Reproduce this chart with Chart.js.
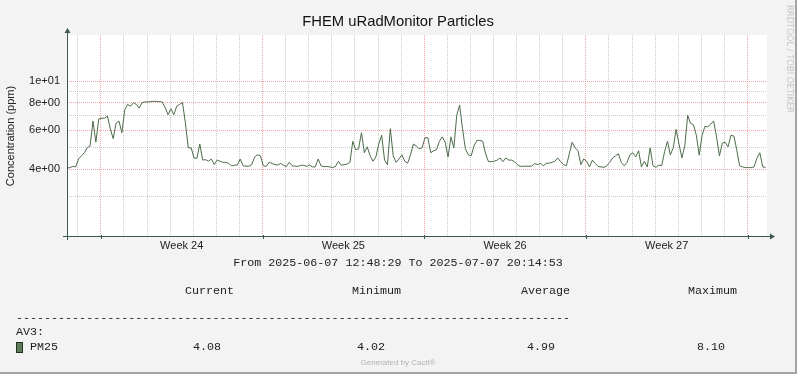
<!DOCTYPE html>
<html>
<head>
<meta charset="utf-8">
<script src="https://cdn.jsdelivr.net/npm/chart.js@4.4.1/dist/chart.umd.min.js"></script>
<style>
html, body { margin: 0; padding: 0; background: #f3f3f3; }
canvas { display: block; }
</style>
</head>
<body>
<canvas id="chart" width="797" height="374"></canvas>
<script>
'use strict';

// time span of the graph (UTC so the page does not depend on the local zone)
var START = Date.UTC(2025, 5, 7, 12, 48, 29);
var END = Date.UTC(2025, 6, 7, 20, 14, 53);
var FIRST_MONDAY = Date.UTC(2025, 5, 9);
var SAMPLE_HOURS = 3;

// PM25 readings, one every 3 hours from START
var pm25 = [
	4.05, 4.07, 4.12, 4.10, 4.45, 4.60, 4.75, 5.00, 5.10, 6.60,
	5.30, 6.75, 6.80, 6.80, 6.95, 6.10, 5.50, 6.45, 6.60, 5.85,
	7.40, 7.85, 7.70, 8.00, 7.85, 7.55, 8.00, 8.05, 8.05, 8.08,
	8.10, 8.10, 8.08, 8.05, 7.60, 7.05, 7.50, 7.05, 7.70, 7.85,
	8.00, 6.50, 5.00, 5.00, 4.50, 4.48, 5.20, 4.40, 4.42, 4.35,
	4.45, 4.20, 4.40, 4.35, 4.30, 4.30, 4.25, 4.15, 4.17, 4.18,
	4.45, 4.15, 4.13, 4.13, 4.20, 4.55, 4.65, 4.60, 4.15, 4.12,
	4.30, 4.25, 4.20, 4.18, 4.25, 4.17, 4.12, 4.30, 4.15, 4.13,
	4.12, 4.17, 4.17, 4.12, 4.18, 4.10, 4.10, 4.45, 4.15, 4.11,
	4.12, 4.10, 4.07, 4.12, 4.35, 4.17, 4.20, 4.22, 4.30, 5.35,
	4.90, 4.95, 5.85, 4.75, 5.05, 4.60, 4.35, 4.55, 5.20, 5.70,
	4.40, 4.20, 6.10, 4.60, 4.30, 4.45, 4.65, 4.35, 4.26, 4.65,
	5.20, 5.10, 4.95, 5.00, 5.55, 5.55, 4.75, 4.85, 4.90, 5.35,
	5.60, 5.30, 4.55, 5.60, 5.00, 7.00, 7.80, 6.10, 4.95, 4.65,
	4.60, 5.10, 5.40, 5.40, 5.35, 4.70, 4.33, 4.33, 4.35, 4.40,
	4.50, 4.33, 4.50, 4.40, 4.40, 4.33, 4.20, 4.12, 4.13, 4.13,
	4.13, 4.13, 4.25, 4.20, 4.25, 4.15, 4.25, 4.26, 4.30, 4.35,
	4.50, 4.33, 4.20, 4.15, 4.70, 5.30, 5.00, 4.85, 4.20, 4.45,
	4.35, 4.10, 4.40, 4.25, 4.12, 4.10, 4.08, 4.15, 4.30, 4.50,
	4.60, 4.70, 4.30, 4.15, 4.30, 4.65, 4.75, 4.55, 4.85, 4.10,
	4.35, 4.10, 5.00, 4.15, 4.08, 4.18, 4.15, 4.80, 5.35, 4.65,
	5.00, 6.05, 5.20, 4.50, 5.10, 7.00, 6.45, 6.35, 5.70, 4.63,
	5.70, 6.25, 6.22, 6.40, 6.60, 5.60, 4.60, 5.25, 5.30, 5.05,
	5.70, 5.65, 4.90, 4.15, 4.10, 4.07, 4.07, 4.07, 4.10, 4.50,
	4.75, 4.10, 4.08
];

var WEEK_LABELS = ['Week 24', 'Week 25', 'Week 26', 'Week 27'];
var Y_GRID = [3, 4, 5, 6, 7, 8, 9, 10];
var Y_LABELED = [4, 6, 8, 10];
var Y_MIN = 2;
var Y_MAX = 16.14;

var LEGEND_HEAD = ['Current', 'Minimum', 'Average', 'Maximum'];
var LEGEND_VALS = ['4.08', '4.02', '4.99', '8.10'];

var HOUR = 3600000;
var TOTAL_HOURS = (END - START) / HOUR;

var AXIS_COLOR = '#3c5950';
var LINE_COLOR = '#4d6c4a';
var MAJOR_GRID = 'rgba(235, 90, 90, 0.55)';
var MINOR_GRID = 'rgba(160, 160, 160, 0.55)';

function pad(n) { return (n < 10 ? '0' : '') + n; }
function stamp(ms) {
	var d = new Date(ms);
	return d.getUTCFullYear() + '-' + pad(d.getUTCMonth() + 1) + '-' + pad(d.getUTCDate()) + ' ' +
		pad(d.getUTCHours()) + ':' + pad(d.getUTCMinutes()) + ':' + pad(d.getUTCSeconds());
}
function expLabel(v) {
	var e = Math.floor(Math.log10(v) + 1e-9);
	var m = Math.round(v / Math.pow(10, e));
	return m + 'e' + (e < 0 ? '-' : '+') + pad(Math.abs(e));
}

// day boundaries, Mondays and week centres, in hours from START
var dayTicks = [];
for (var t = Date.UTC(2025, 5, 8); t <= END; t += 24 * HOUR) {
	dayTicks.push({ value: (t - START) / HOUR, monday: ((t - FIRST_MONDAY) / HOUR) % 168 === 0 });
}
var weekTicks = WEEK_LABELS.map(function (label, k) {
	return { value: (FIRST_MONDAY - START) / HOUR + 168 * k + 84, label: label };
});

var points = pm25.map(function (v, i) { return { x: i * SAMPLE_HOURS, y: v }; });

var rrdFrame = {
	id: 'rrdFrame',
	beforeDraw: function (chart) {
		var ctx = chart.ctx, a = chart.chartArea;
		ctx.save();
		ctx.fillStyle = '#f3f3f3';
		ctx.fillRect(0, 0, chart.width, chart.height);
		ctx.fillStyle = '#ffffff';
		ctx.fillRect(a.left, a.top, a.right - a.left, a.bottom - a.top);
		ctx.fillStyle = '#a3a3a3';
		ctx.fillRect(chart.width - 2, 0, 2, chart.height);
		ctx.fillRect(0, chart.height - 2, chart.width, 2);
		ctx.restore();
	},
	afterDraw: function (chart) {
		var ctx = chart.ctx, a = chart.chartArea;
		var xs = chart.scales.x;
		ctx.save();

		// axes with arrow heads
		ctx.strokeStyle = AXIS_COLOR;
		ctx.fillStyle = AXIS_COLOR;
		ctx.lineWidth = 1;
		ctx.beginPath();
		ctx.moveTo(a.left + 0.5, a.bottom + 4);
		ctx.lineTo(a.left + 0.5, a.top - 3);
		ctx.moveTo(a.left - 4, a.bottom + 0.5);
		ctx.lineTo(a.right + 4, a.bottom + 0.5);
		ctx.stroke();
		ctx.beginPath();
		ctx.moveTo(a.left + 0.5, a.top - 7);
		ctx.lineTo(a.left - 2.5, a.top - 2);
		ctx.lineTo(a.left + 3.5, a.top - 2);
		ctx.closePath();
		ctx.fill();
		ctx.beginPath();
		ctx.moveTo(a.right + 8, a.bottom + 0.5);
		ctx.lineTo(a.right + 3, a.bottom - 2.5);
		ctx.lineTo(a.right + 3, a.bottom + 3.5);
		ctx.closePath();
		ctx.fill();
		dayTicks.forEach(function (d) {
			if (!d.monday) return;
			var px = Math.round(xs.getPixelForValue(d.value)) + 0.5;
			ctx.beginPath();
			ctx.moveTo(px, a.bottom - 1);
			ctx.lineTo(px, a.bottom + 3);
			ctx.stroke();
		});

		// title and axis title
		ctx.fillStyle = '#111';
		ctx.textAlign = 'center';
		ctx.textBaseline = 'middle';
		ctx.font = '14.8px "Liberation Sans", Arial, sans-serif';
		ctx.fillText('FHEM uRadMonitor Particles', 398, 22);
		ctx.font = '11px "Liberation Sans", Arial, sans-serif';
		ctx.fillStyle = '#222';
		ctx.save();
		ctx.translate(11, 136);
		ctx.rotate(-Math.PI / 2);
		ctx.fillText('Concentration (ppm)', 0, 0);
		ctx.restore();

		// watermark on the right
		ctx.save();
		ctx.translate(789, 5);
		ctx.rotate(Math.PI / 2);
		ctx.textAlign = 'left';
		ctx.fillStyle = '#c6c6c6';
		ctx.font = '8.4px "DejaVu Sans", sans-serif';
		ctx.fillText('RRDTOOL / TOBI OETIKER', 0, 0);
		ctx.restore();

		// legend block
		ctx.fillStyle = '#222';
		ctx.font = '11.7px "Liberation Mono", monospace';
		ctx.fillText('From ' + stamp(START) + ' To ' + stamp(END), 398, 263);
		ctx.textAlign = 'left';
		var headX = [185, 352, 521, 688];
		var valX = [193, 357, 527, 697];
		LEGEND_HEAD.forEach(function (h, i) { ctx.fillText(h, headX[i], 291); });
		ctx.fillText(new Array(80).join('-'), 16, 318);
		ctx.fillText('AV3:', 16, 332);
		ctx.fillText('PM25', 30, 347);
		LEGEND_VALS.forEach(function (v, i) { ctx.fillText(v, valX[i], 347); });
		ctx.fillStyle = '#5c7c59';
		ctx.fillRect(16, 342, 7, 11);
		ctx.strokeStyle = '#22331f';
		ctx.strokeRect(16.5, 342.5, 6, 10);

		// footer
		ctx.textAlign = 'center';
		ctx.fillStyle = '#b3b3b3';
		ctx.font = '8px "Liberation Sans", Arial, sans-serif';
		ctx.fillText('Generated by Cacti\u00AE', 398, 363);
		ctx.restore();
	}
};

new Chart(document.getElementById('chart'), {
	type: 'line',
	data: {
		datasets: [{
			label: 'PM25',
			data: points,
			borderColor: LINE_COLOR,
			borderWidth: 1,
			pointRadius: 0,
			tension: 0,
			fill: false
		}]
	},
	options: {
		responsive: false,
		animation: false,
		devicePixelRatio: 1,
		layout: { padding: { left: 0, top: 35, right: 30, bottom: 0 } },
		plugins: { legend: { display: false }, tooltip: { enabled: false } },
		scales: {
			x: {
				type: 'linear',
				min: 0,
				max: TOTAL_HOURS,
				afterBuildTicks: function (scale) {
					scale.ticks = dayTicks.map(function (d) { return { value: d.value }; })
						.concat(weekTicks.map(function (w) { return { value: w.value }; }))
						.sort(function (p, q) { return p.value - q.value; });
				},
				afterFit: function (scale) { scale.height = 374 - 236; },
				grid: {
					drawTicks: false,
					lineWidth: function (c) {
						return dayTicks.some(function (d) { return d.value === c.tick.value; }) ? 1 : 0;
					},
					color: function (c) {
						var d = dayTicks.find(function (q) { return q.value === c.tick.value; });
						return d && d.monday ? MAJOR_GRID : MINOR_GRID;
					}
				},
				border: { display: false, dash: [1, 1] },
				ticks: {
					autoSkip: false,
					maxRotation: 0,
					padding: 3,
					color: '#222',
					font: { family: '"Liberation Sans", Arial, sans-serif', size: 11 },
					callback: function (v) {
						var w = weekTicks.find(function (q) { return q.value === v; });
						return w ? w.label : '';
					}
				}
			},
			y: {
				type: 'logarithmic',
				min: Y_MIN,
				max: Y_MAX,
				afterBuildTicks: function (scale) {
					scale.ticks = Y_GRID.map(function (v) { return { value: v }; });
				},
				afterFit: function (scale) { scale.width = 67; },
				grid: {
					drawTicks: false,
					color: function (c) {
						return Y_LABELED.indexOf(c.tick.value) >= 0 ? MAJOR_GRID : MINOR_GRID;
					}
				},
				border: { display: false, dash: [1, 1] },
				ticks: {
					autoSkip: false,
					padding: 7,
					color: '#222',
					font: { family: '"Liberation Sans", Arial, sans-serif', size: 11 },
					callback: function (v) {
						return Y_LABELED.indexOf(v) >= 0 ? expLabel(v) : '';
					}
				}
			}
		}
	},
	plugins: [rrdFrame]
});
</script>
</body>
</html>
